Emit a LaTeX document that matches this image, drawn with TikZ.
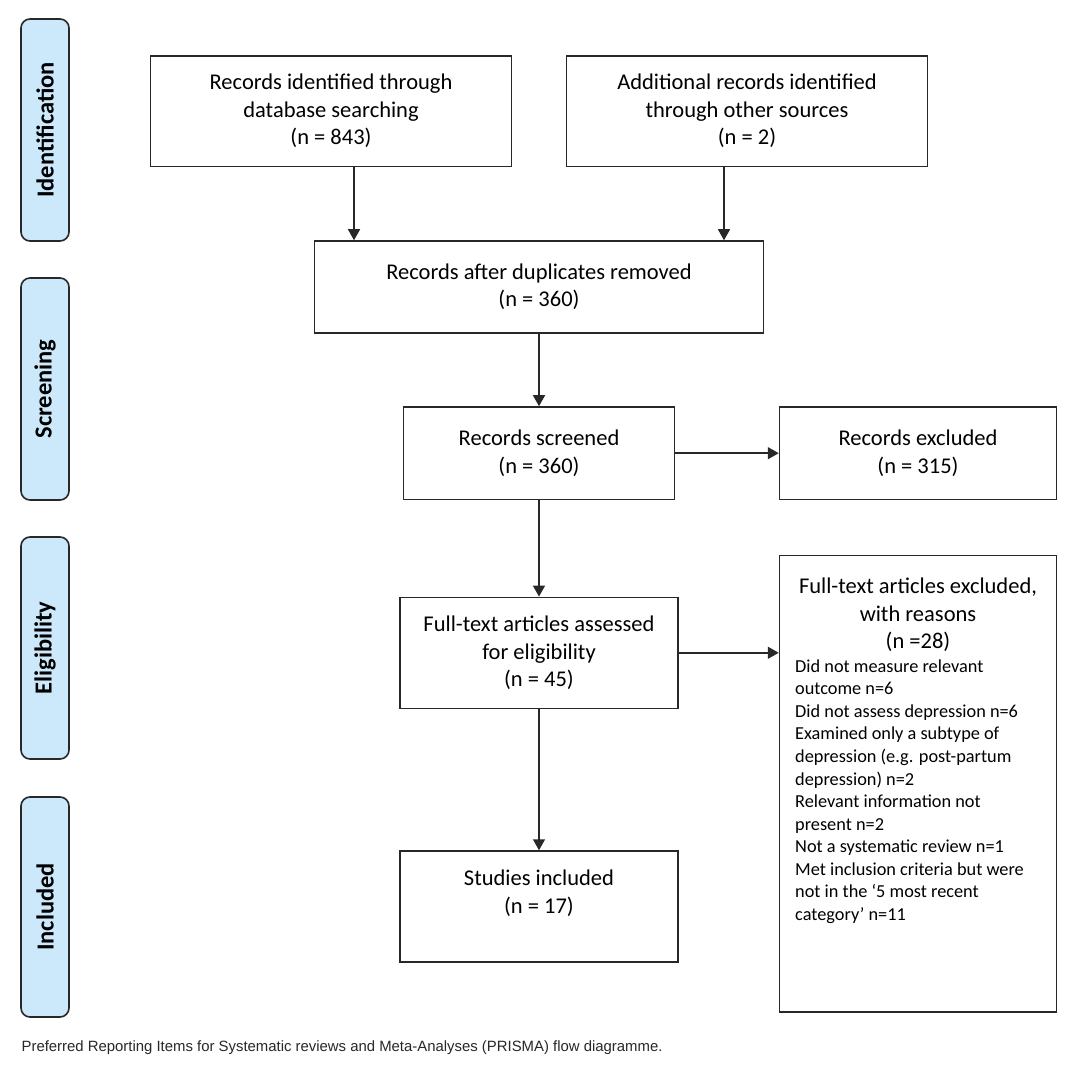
\documentclass[tikz,border=0pt]{standalone}
\usepackage{fontspec}
\setmainfont{Carlito}
\newfontfamily\capfont{Liberation Sans}
\usetikzlibrary{arrows.meta}
\definecolor{labblue}{RGB}{204,232,251}
\definecolor{strokec}{RGB}{40,40,40}
\definecolor{capgray}{RGB}{40,40,40}
\begin{document}
\begin{tikzpicture}[x=1pt,y=-1pt,
  box/.style={draw=strokec, line width=1.5pt, align=center, inner sep=0pt,
    font=\fontsize{22.5}{27.5}\selectfont},
  lab/.style={draw=strokec, fill=labblue, line width=1.6pt, rounded corners=9pt,
    rotate=90, inner sep=0pt, minimum height=48pt,
    font=\bfseries\fontsize{24.5}{27}\selectfont},
  arr/.style={draw=strokec, line width=1.5pt, -{Triangle[length=11pt,width=12pt]}},
  txt/.style={inner sep=0pt}]
\useasboundingbox (0,0) rectangle (1080,1067);
\fill[white] (0,0) rectangle (1080,1067);

% phase labels
\node[lab, minimum width=222pt] (L1) at (45,130) {Identification};
\node[lab, minimum width=222pt] (L2) at (45,389) {Screening};
\node[lab, minimum width=222pt] (L3) at (45,648) {Eligibility};
\node[lab, minimum width=220pt] (L4) at (45,907) {Included};

% boxes
\node[box, minimum width=361pt, minimum height=110.5pt] (A) at (331,111.2)
  {Records identified through\\database searching\\(n = 843)};
\node[box, minimum width=361pt, minimum height=110.5pt] (B) at (747,111.2)
  {Additional records identified\\through other sources\\(n = 2)};
\node[box, minimum width=449pt, minimum height=92pt] (C) at (539,287)
  {Records after duplicates removed\\(n = 360)};
\node[box, minimum width=270.7pt, minimum height=92.5pt] (D) at (539,453.2)
  {Records screened\\(n = 360)};
\node[box, minimum width=277pt, minimum height=92.5pt] (E) at (918,453.2)
  {Records excluded\\(n = 315)};
\node[box, minimum width=277.6pt, minimum height=111pt] (F) at (539,652.8)
  {Full-text articles assessed\\for eligibility\\(n = 45)};
\node[box, minimum width=277pt, minimum height=456.5pt] (G) at (918,783.7) {};
\node[box, minimum width=277.6pt, minimum height=111pt] (H) at (539,906.5)
  {Studies included\\(n = 17)\\[-6pt]\strut};

% text of the exclusion box
\node[txt, align=center, font=\fontsize{22.5}{27.5}\selectfont] (Gh) at (918,615)
  {Full-text articles excluded,\\with reasons\\(n =28)};
\node[txt, align=left, anchor=west, font=\fontsize{18.3}{22.55}\selectfont] (Gl) at (795,791.5)
  {Did not measure relevant\\
   outcome n=6\\
   Did not assess depression n=6\\
   Examined only a subtype of\\
   depression (e.g. post-partum\\
   depression) n=2\\
   Relevant information not\\
   present n=2\\
   Not a systematic review n=1\\
   Met inclusion criteria but were\\
   not in the ‘5 most recent\\
   category’ n=11};

% connectors
\draw[arr] ([xshift=23pt]A.south) -- ([xshift=23pt]A.south |- C.north);
\draw[arr] ([xshift=-23pt]B.south) -- ([xshift=-23pt]B.south |- C.north);
\draw[arr] (C.south) -- (C.south |- D.north);
\draw[arr] (D.east) -- (D.east -| E.west);
\draw[arr] (D.south) -- (D.south |- F.north);
\draw[arr] (F.east) -- (F.east -| G.west);
\draw[arr] (F.south) -- (F.south |- H.north);

% caption
\node[txt, anchor=base west, text=capgray, font=\capfont\fontsize{14.9}{17}\selectfont] (cap) at (21.4,1051)
  {Preferred Reporting Items for Systematic reviews and Meta-Analyses (PRISMA) flow diagramme.};
\end{tikzpicture}
\end{document}
